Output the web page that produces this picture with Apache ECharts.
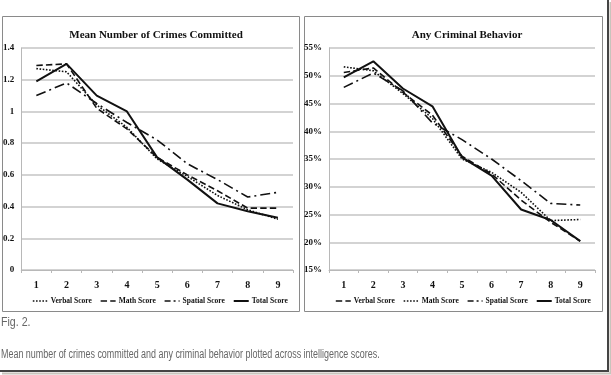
<!DOCTYPE html>
<html>
<head>
<meta charset="utf-8">
<script src="https://cdn.jsdelivr.net/npm/echarts@6/dist/echarts.min.js"></script>
<style>
html, body { margin: 0; padding: 0; background: #fff; }
#main { width: 611px; height: 375px; }
</style>
</head>
<body>
<div id="main"></div>
<script>
// intelligence score categories
var scores = ["1", "2", "3", "4", "5", "6", "7", "8", "9"];

// left panel: mean number of crimes committed
var crimesVerbal  = [1.27, 1.25, 1.04, 0.90, 0.70, 0.59, 0.47, 0.38, 0.32];
var crimesMath    = [1.29, 1.30, 1.02, 0.89, 0.71, 0.60, 0.50, 0.39, 0.39];
var crimesSpatial = [1.10, 1.18, 1.05, 0.93, 0.82, 0.67, 0.57, 0.46, 0.49];
var crimesTotal   = [1.19, 1.30, 1.10, 1.00, 0.71, 0.57, 0.42, 0.37, 0.33];

// right panel: any criminal behavior (%)
var anyVerbal  = [50.6, 51.4, 47.0, 42.9, 35.5, 32.3, 27.6, 23.6, 20.2];
var anyMath    = [51.6, 50.9, 46.8, 42.3, 35.0, 32.6, 29.0, 23.9, 24.1];
var anySpatial = [47.9, 50.5, 47.3, 41.5, 38.5, 35.0, 31.1, 27.0, 26.7];
var anyTotal   = [49.7, 52.6, 47.7, 44.5, 35.3, 32.0, 25.9, 24.0, 20.2];

var serif = "Liberation Serif";
var gridGrey = "#c4c4c4";
var dashDot = [10, 4, 2, 4];

function xAxisFor(idx) {
    return {
        type: "category",
        gridIndex: idx,
        data: scores,
        axisLine: { lineStyle: { color: "#b8b8b8", width: 1 } },
        axisTick: { show: true, lineStyle: { color: "#b8b8b8" }, length: 3 },
        axisLabel: { color: "#111", fontFamily: serif, fontWeight: "bold", fontSize: 10, margin: 10 }
    };
}

function line(name, data, type, idx, width) {
    return {
        name: name,
        type: "line",
        xAxisIndex: idx,
        yAxisIndex: idx,
        data: data,
        symbol: "none",
        animation: false,
        lineStyle: { color: "#111", width: width || 1.6, type: type },
        itemStyle: { color: "#111" }
    };
}

function legendFor(left, types) {
    var names = ["Verbal Score", "Math Score", "Spatial Score", "Total Score"];
    return {
        left: left, top: 292, width: 330,
        itemWidth: 15, itemHeight: 8, itemGap: 8,
        itemStyle: { color: "rgba(0,0,0,0)", borderWidth: 0, opacity: 0 },
        textStyle: { fontFamily: serif, fontWeight: "bold", fontSize: 7.5, color: "#111", padding: [0, 0, 0, -2] },
        data: names.map(function (n, i) {
            return { name: n, lineStyle: { type: types[i], width: i === 3 ? 2 : 1.6 } };
        })
    };
}

var myChart = echarts.init(document.getElementById("main"));
var option = {
    animation: false,
    title: [{
        text: "Mean Number of Crimes Committed",
        left: 151, top: 25, textAlign: "center",
        textStyle: { fontFamily: serif, fontWeight: "bold", fontSize: 11, color: "#111" }
    }, {
        text: "Any Criminal Behavior",
        left: 462, top: 25, textAlign: "center",
        textStyle: { fontFamily: serif, fontWeight: "bold", fontSize: 11, color: "#111" }
    }],
    legend: [
        legendFor(27, ["dotted", "dashed", [6, 3, 2, 3], "solid"]),
        legendFor(330, ["dashed", "dotted", [6, 3, 2, 3], "solid"])
    ],
    grid: [
        { left: 20, top: 48, width: 273, height: 222 },
        { left: 329, top: 48, width: 266, height: 222 }
    ],
    xAxis: [xAxisFor(0), xAxisFor(1)],
    yAxis: [{
        type: "value", gridIndex: 0, min: 0, max: 1.4, interval: 0.2,
        axisLine: { show: true, lineStyle: { color: "#b8b8b8" } },
        splitLine: { lineStyle: { color: gridGrey, width: 1.5 } },
        axisLabel: {
            color: "#111", fontFamily: serif, fontWeight: "bold", fontSize: 9, margin: 7,
            formatter: function (v) { return String(Math.round(v * 10) / 10); }
        }
    }, {
        type: "value", gridIndex: 1, min: 15, max: 55, interval: 5,
        axisLine: { show: true, lineStyle: { color: "#b8b8b8" } },
        splitLine: { lineStyle: { color: gridGrey, width: 1.5 } },
        axisLabel: {
            color: "#111", fontFamily: serif, fontWeight: "bold", fontSize: 9, margin: 7,
            formatter: "{value}%"
        }
    }],
    graphic: [
        // panel borders
        { type: "rect", shape: { x: 2.5, y: 16.5, width: 297, height: 295 },
          style: { fill: null, stroke: "#8a8a8a", lineWidth: 1 }, silent: true },
        { type: "rect", shape: { x: 304.5, y: 16.5, width: 298, height: 295 },
          style: { fill: null, stroke: "#8a8a8a", lineWidth: 1 }, silent: true },
        // outer frame with shadow
        { type: "polyline", shape: { points: [[608, 0], [608, 371], [0, 371]] },
          style: { stroke: "#444", lineWidth: 2, fill: null }, silent: true },
        { type: "polyline", shape: { points: [[610.5, 2], [610.5, 373.5], [2, 373.5]] },
          style: { stroke: "#c8c4bc", lineWidth: 2, fill: null }, silent: true },
        // caption
        { type: "text", x: 1, y: 316, scaleX: 0.85,
          style: { text: "Fig. 2.", fontFamily: "Liberation Sans", fontSize: 12.5, fill: "#666" } },
        { type: "text", x: 1, y: 349, scaleX: 0.745,
          style: { text: "Mean number of crimes committed and any criminal behavior plotted across intelligence scores.",
                   fontFamily: "Liberation Sans", fontSize: 12, fill: "#666" } }
    ],
    series: [
        line("Verbal Score", crimesVerbal, "dotted", 0),
        line("Math Score", crimesMath, "dashed", 0),
        line("Spatial Score", crimesSpatial, dashDot, 0),
        line("Total Score", crimesTotal, "solid", 0, 2),
        line("Verbal Score", anyVerbal, "dashed", 1),
        line("Math Score", anyMath, "dotted", 1),
        line("Spatial Score", anySpatial, dashDot, 1),
        line("Total Score", anyTotal, "solid", 1, 2)
    ]
};
myChart.setOption(option);
</script>
</body>
</html>
